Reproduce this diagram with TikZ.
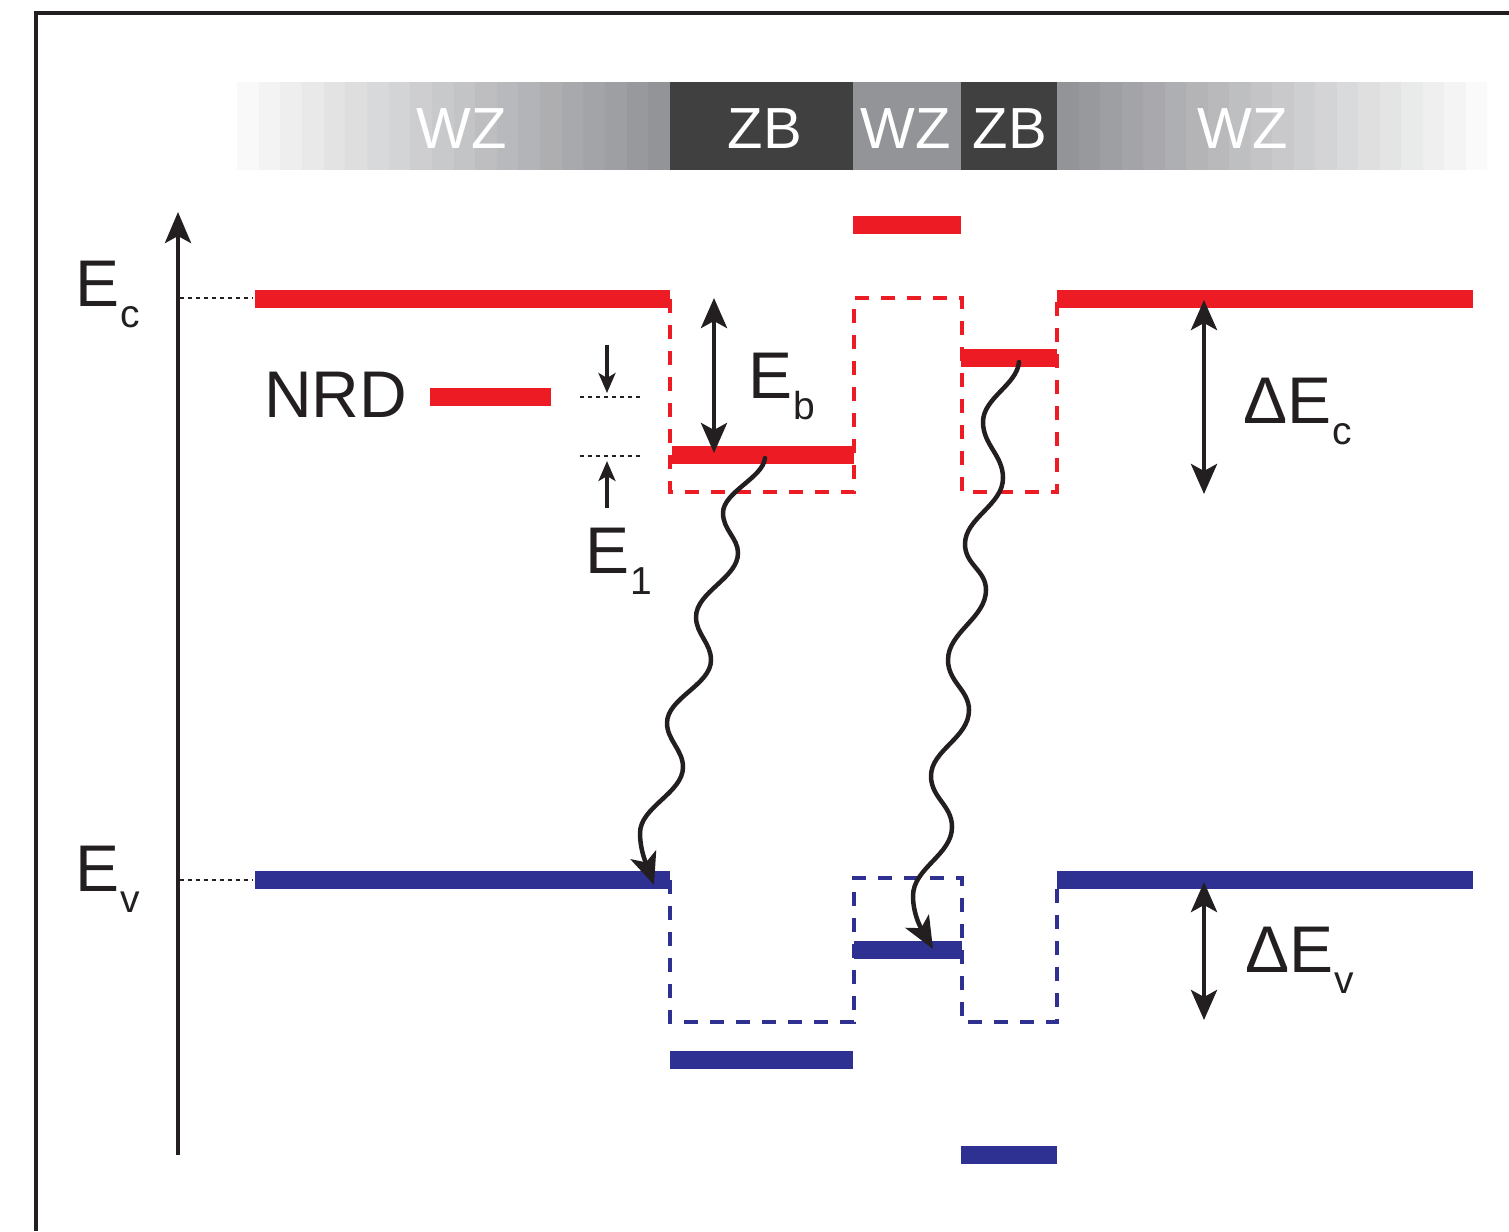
\documentclass[tikz,border=0pt]{standalone}
\usepackage{fontspec}
\setmainfont{Liberation Sans}
\usetikzlibrary{arrows.meta}
\definecolor{bandred}{HTML}{ED1C24}
\definecolor{bandblue}{HTML}{2E3192}
\definecolor{ink}{HTML}{231F20}
\definecolor{zbgray}{HTML}{404041}
\definecolor{wzgray}{HTML}{939498}
\tikzset{
 level/.style={line width=18pt},
 redlevel/.style={level, draw=bandred},
 bluelevel/.style={level, draw=bandblue},
 well/.style={line width=4pt, dash pattern=on 14pt off 12pt},
 guide/.style={line width=1.8pt, draw=ink, dash pattern=on 4pt off 4pt},
 bigarrow/.style={line width=4.5pt, draw=ink, arrows={-Stealth[length=31pt,width=26pt,inset=7pt]}},
 dbl/.style={line width=4.5pt, draw=ink, arrows={Stealth[length=30pt,width=26pt,inset=7pt]-Stealth[length=30pt,width=26pt,inset=7pt]}},
 smallarrow/.style={line width=3.5pt, draw=ink, arrows={-Stealth[length=20pt,width=17pt,inset=5pt]}},
 wave/.style={line width=4.5pt, draw=ink, line cap=round, arrows={-Stealth[length=32pt,width=27pt,inset=8pt]}},
 lbl/.style={anchor=base west, inner sep=0pt, text=ink, font=\fontsize{66}{70}\selectfont},
 barlbl/.style={anchor=base, inner sep=0pt, text=white, font=\fontsize{58}{60}\selectfont},
}
\newcommand\lowsub[1]{\kern1pt\raisebox{-21pt}{\fontsize{39}{40}\selectfont #1}}
\begin{document}
\begin{tikzpicture}[x=1pt,y=-1pt]
\useasboundingbox (0,0) rectangle (1509,1231);
% frame
\draw[line width=4pt, ink] (36,1231) -- (36,13) -- (1509,13);
% crystal-phase bar
\foreach \i in {0,...,19} {
  \pgfmathsetmacro\pct{6+94*\i/19}
  \fill[wzgray!\pct!white] (237+\i*21.65,82) rectangle (237+\i*21.65+22,170);
}
\foreach \i in {0,...,19} {
  \pgfmathsetmacro\pct{100-95*\i/19}
  \fill[wzgray!\pct!white] (1057+\i*21.5,82) rectangle (1057+\i*21.5+22,170);
}
\fill[white] (1487,80) rectangle (1509,172);
\fill[zbgray] (670,82) rectangle (853,170);
\fill[wzgray] (853,82) rectangle (961,170);
\fill[zbgray] (961,82) rectangle (1057,170);
\node[barlbl] (wz1) at (462,148) {WZ};
\node[barlbl] (zb1) at (765,148) {ZB};
\node[barlbl] (wz2) at (906,148) {WZ};
\node[barlbl] (zb2) at (1010,148) {ZB};
\node[barlbl] (wz3) at (1243,148) {WZ};
% energy axis
\coordinate (axbot) at (178,1155);
\coordinate (axtop) at (178,212);
\draw[bigarrow] (axbot) -- (axtop);
% dotted guides
\draw[guide] (180,298) -- (253,298);
\draw[guide] (180,880) -- (253,880);
\draw[guide] (580,397) -- (640,397);
\draw[guide] (580,456) -- (640,456);
% well outlines
\draw[well, bandred] (670,299) -- (670,492) -- (854,492) -- (854,298) -- (962,298) -- (962,492) -- (1057,492) -- (1057,299);
\draw[well, bandblue] (670,880) -- (670,1022) -- (854,1022) -- (854,878) -- (962,878) -- (962,1022) -- (1057,1022) -- (1057,880);
% conduction levels
\draw[redlevel] (255,299) -- (670,299);
\draw[redlevel] (1057,299) -- (1473,299);
\draw[redlevel] (853,225) -- (961,225);
\draw[redlevel] (672,455) -- (854,455);
\draw[redlevel] (961,358) -- (1057,358);
\draw[redlevel] (430,397) -- (551,397);
% valence levels
\draw[bluelevel] (255,880) -- (670,880);
\draw[bluelevel] (1057,880) -- (1473,880);
\draw[bluelevel] (854,950) -- (962,950);
\draw[bluelevel] (670,1060) -- (853,1060);
\draw[bluelevel] (961,1155) -- (1057,1155);
% arrows
\coordinate (ebtop) at (714,298);
\coordinate (ebbot) at (714,453);
\draw[dbl] (ebtop) -- (ebbot);
\coordinate (dectop) at (1204,300);
\coordinate (decbot) at (1204,494);
\draw[dbl] (dectop) -- (decbot);
\coordinate (devtop) at (1204,882);
\coordinate (devbot) at (1204,1020);
\draw[dbl] (devtop) -- (devbot);
\coordinate (nrdA) at (607,345);
\coordinate (nrdB) at (607,393);
\draw[smallarrow] (nrdA) -- (nrdB);
\coordinate (e1A) at (607,508);
\coordinate (e1B) at (607,461);
\draw[smallarrow] (e1A) -- (e1B);
% labels
\node[lbl] (Ec) at (75,306) {E\lowsub{c}};
\node[lbl] (Ev) at (75,891) {E\lowsub{v}};
\node[lbl] (nrd) at (264,417) {NRD};
\node[lbl] (Eb) at (748,398) {E\lowsub{b}};
\node[lbl] (E1) at (585,573) {E\lowsub{1}};
\node[lbl] (dEc) at (1243,423) {ΔE\lowsub{c}};
\node[lbl] (dEv) at (1245,972) {ΔE\lowsub{v}};
% recombination waves
\coordinate (w1s) at (765,458);
\coordinate (w1e) at (654,885);
\draw[wave] (w1s) .. controls (763,478) and (723,492) .. (723,513)
 .. controls (723,530) and (738,538) .. (738,553)
 .. controls (738,578) and (696,592) .. (696,617)
 .. controls (696,634) and (711,643) .. (711,660)
 .. controls (711,685) and (667,698) .. (667,723)
 .. controls (667,740) and (683,750) .. (683,767)
 .. controls (683,793) and (640,807) .. (640,833)
 .. controls (640,852) and (648,868) .. (w1e);
\coordinate (w2s) at (1019,362);
\coordinate (w2e) at (933,949);
\draw[wave] (w2s) .. controls (1017,385) and (983,398) .. (983,422)
 .. controls (983,445) and (1003,455) .. (1003,478)
 .. controls (1003,505) and (965,518) .. (965,544)
 .. controls (965,565) and (986,570) .. (986,590)
 .. controls (986,618) and (948,632) .. (948,660)
 .. controls (948,682) and (969,690) .. (969,710)
 .. controls (969,738) and (931,750) .. (931,776)
 .. controls (931,798) and (952,805) .. (952,827)
 .. controls (952,855) and (913,868) .. (913,896)
 .. controls (913,918) and (925,935) .. (w2e);
\end{tikzpicture}
\end{document}
